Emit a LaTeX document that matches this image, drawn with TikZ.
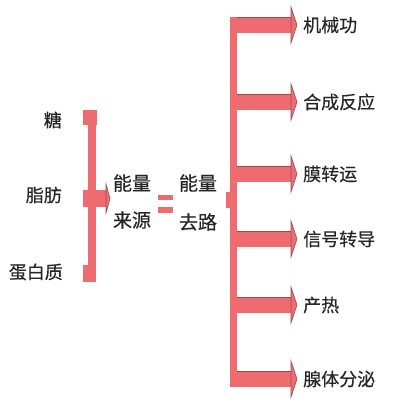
\documentclass[tikz,border=0pt]{standalone}
\usepackage{fontspec}
\newfontfamily\cjk[FakeBold=0.4]{Noto Sans CJK SC}
\definecolor{arrfill}{RGB}{238,108,112}
\definecolor{arredge}{RGB}{150,75,85}
\begin{document}
\begin{tikzpicture}[x=1pt,y=-1pt,
  band/.style={fill=arrfill},
  headtip/.style={fill=arrfill,draw=arredge,line width=0.6pt},
  lab/.style={font=\cjk\fontsize{18}{20}\selectfont,inner sep=0pt,text=black!85},
  mid/.style={font=\cjk\fontsize{19}{21}\selectfont,inner sep=0pt,text=black!85}]
\useasboundingbox (0,0) rectangle (400,407);
% left bracket
\fill[band] (83,110) rectangle (97,125);
\fill[band] (83,265) rectangle (96,282);
\fill[band] (88,110) rectangle (96,282);
\fill[band] (83,190) rectangle (106,207);
\draw[headtip] (106,184) -- (110,198.5) -- (106,213) -- cycle;
% equals
\fill[band] (158,195) rectangle (173,200);
\fill[band] (158,207) rectangle (173,213);
% right structure
\fill[band] (226,192) rectangle (231,208);
\fill[band] (230,17) rectangle (237,387);
\foreach \c/\n in {25/a,102/b,174/c,239/d,305/e,379/f}{
  \fill[band] (230,\c-8) rectangle (291,\c+7.5);
  \draw[arredge,line width=0.4pt] (237,\c-8) -- (291,\c-8);
  \draw[headtip] (291,\c-18) -- (297,\c) -- (291,\c+18) -- cycle;
  \coordinate (h\n) at (297,\c);
}
% texts
\node[lab,anchor=east] (t1) at (62,120) {糖};
\node[lab,anchor=east] (t2) at (62,195) {脂肪};
\node[lab,anchor=east] (t3) at (63,272) {蛋白质};
\node[mid] (m1) at (132,183) {能量};
\node[mid] (m2) at (132,220) {来源};
\node[mid] (m3) at (198,183) {能量};
\node[mid] (m4) at (198,222) {去路};
\node[lab,anchor=west] (r1) at (303,25) {机械功};
\node[lab,anchor=west] (r2) at (303,102) {合成反应};
\node[lab,anchor=west] (r3) at (303,174) {膜转运};
\node[lab,anchor=west] (r4) at (303,239) {信号转导};
\node[lab,anchor=west] (r5) at (303,305) {产热};
\node[lab,anchor=west] (r6) at (303,379) {腺体分泌};
\end{tikzpicture}
\end{document}
